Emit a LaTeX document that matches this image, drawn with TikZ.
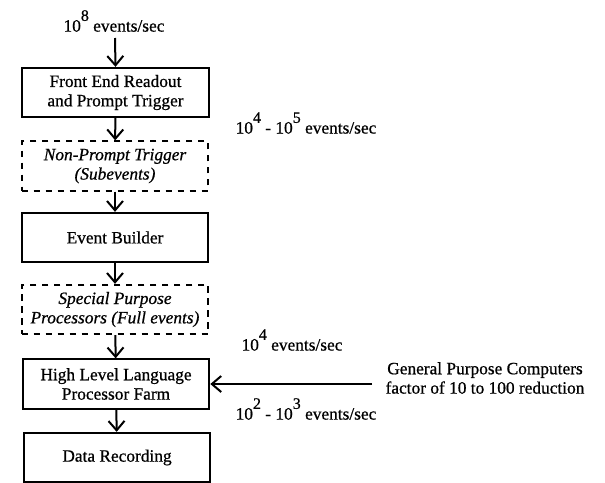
\documentclass[tikz,border=0pt]{standalone}
\usepackage{fontspec}
\setmainfont{Liberation Serif}[UprightFeatures={FakeBold=0.7}, ItalicFeatures={FakeBold=0.7}]
\usetikzlibrary{arrows.meta, positioning}
\tikzset{every picture/.style={line width=1.5pt}}
\newcommand{\tenpow}[1]{10\raisebox{1.35ex}{\fontsize{12}{12}\selectfont #1}}

\begin{document}
\begin{tikzpicture}[
		x=0.75pt, y=-0.75pt,
		font=\fontsize{13}{14.5}\selectfont,
		% Solid processing stage
		stage/.style={
			draw,
			minimum width=140pt,
			minimum height=37pt,
			align=center,
			inner sep=2pt
		},
		% Dashed (optional) stage
		optstage/.style={
			stage,
			dash pattern=on 5pt off 4pt,
			font=\fontsize{13}{14.5}\selectfont\itshape
		},
		% Rate annotation
		rate/.style={
			inner sep=0pt
		},
		flow/.style={
			-{Straight Barb[length=7pt,width=12pt,line width=1.5pt]}
		}
		]
		
		\useasboundingbox (0,0) rectangle (605,482);
		
		% --- Stages ---
		\node[stage] (frontend) at (115.5,92.5) {Front End Readout\\and Prompt Trigger};
		\node[optstage] (nonprompt) at (115,166) {Non-Prompt Trigger\\(Subevents)};
		\node[stage] (builder) at (115,237.5) {Event Builder};
		\node[optstage] (special) at (115,309.5) {Special Purpose\\Processors (Full events)};
		\node[stage] (farm) at (116,384) {High Level Language\\Processor Farm};
		\node[stage] (recording) at (117,457.5) {Data Recording};
		
		% --- Input ---
		\node[rate] (input) at (114,21) {\tenpow{8} events/sec};
		\coordinate (inflow) at (115,38);
		
		% --- Rates ---
		\node[rate] (rateA) at (306,123) {\tenpow{4} - \tenpow{5} events/sec};
		\node[rate] (rateB) at (292,340) {\tenpow{4} events/sec};
		\node[rate] (rateC) at (306,409) {\tenpow{2} - \tenpow{3} events/sec};
		\node[rate, align=center] (general) at (485,378)
		{General Purpose Computers\\factor of 10 to 100 reduction};
		\coordinate (gpcout) at (372,384);
		
		% --- Flow ---
		\draw[flow] (inflow) -- (frontend.north);
		\draw[flow] (frontend) -- (nonprompt);
		\draw[flow] (nonprompt) -- (builder);
		\draw[flow] (builder) -- (special);
		\draw[flow] (special) -- (farm);
		\draw[flow] (farm) -- (recording);
		\draw[flow] (gpcout) -- (farm.east);
		
\end{tikzpicture}
\end{document}
